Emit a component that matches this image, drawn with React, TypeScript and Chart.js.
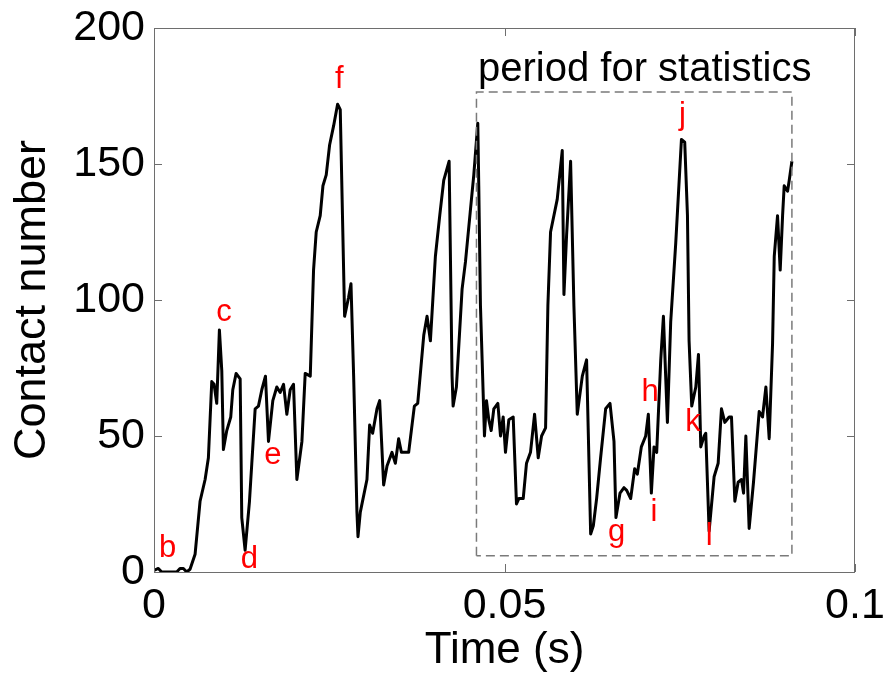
import React, { useEffect, useRef } from 'react';
import { Chart, registerables } from 'chart.js';
Chart.register(...registerables);

const timeMs = [
  0, 0.62, 1.1, 3.24, 3.71, 4.19, 4.67, 5.14, 5.86, 6.57, 7.29, 7.76, 8.24, 8.57, 8.95, 9.33, 9.67, 9.9,
  10.38, 10.95, 11.24, 11.71, 12.29, 12.52, 13.0, 13.62, 14.43, 14.9, 15.38, 15.9, 16.33, 16.95, 17.52,
  18.0, 18.48, 18.95, 19.43, 19.9, 20.38, 21.1, 21.57, 22.29, 22.76, 23.14, 23.71, 24.1, 24.57, 25.05,
  25.62, 26.19, 26.57, 27.05, 27.19, 27.76, 28.1, 28.48, 28.95, 29.1, 29.43, 30.38, 30.76, 31.19, 31.81,
  32.19, 32.76, 33.24, 33.95, 34.43, 34.9, 35.29, 35.86, 36.33, 37.14, 37.62, 38.48, 38.95, 39.43, 40.14,
  40.76, 41.33, 42.1, 42.52, 42.67, 43.14, 43.95, 44.43, 45.1, 45.62, 46.19,
  46.33, 46.57, 46.81, 47.14, 47.43, 47.76, 48.1, 48.48, 49.05, 49.43, 49.81, 50.14, 50.62, 51.24, 51.71,
  52.05, 52.67, 53.14, 53.71, 54.29, 54.81, 55.29, 55.86, 56.19, 56.57, 57.52, 58.24, 58.48, 58.86, 59.43,
  59.9, 60.38, 61.1, 61.71, 62.29, 62.67, 63.14, 63.71, 64.43, 65.05, 65.62, 65.9, 66.48, 67.05, 67.43,
  68.0, 68.57, 68.95, 69.52, 70.14, 70.52, 70.95, 71.33, 71.71, 72.29, 72.67, 73.24, 73.71, 74.43, 75.24,
  75.71, 76.1, 76.33, 76.71, 77.29, 77.67, 78.0, 78.48, 78.71, 79.19, 79.9, 80.48, 80.95, 81.43, 82.05,
  82.38, 82.86, 83.33, 83.81, 84.1, 84.43, 84.9, 85.52, 86.33, 86.81, 87.29, 87.76, 88.24, 88.48, 88.95,
  89.33, 89.67, 89.9, 90.38, 90.62, 91.0,
];

const contactNumber = [
  0.6, 1.3, 0, 0, 1.3, 1.3, 0, 1, 6.5, 26, 34, 42, 70, 69, 62, 89, 74, 45,
  52, 57, 67, 73, 71, 20, 8, 26, 60, 61, 67, 72, 48, 63, 68,
  66, 69, 58, 67, 69, 34, 48, 73, 72, 111, 125, 131, 142, 146, 157,
  164, 172, 170, 111, 94, 101, 106, 72, 22, 13, 22, 34, 54, 51, 60,
  63, 32, 39, 44, 40, 49, 44, 44, 44, 61, 62, 87, 94, 85, 116,
  131, 144, 151, 72, 61, 68, 104, 114, 132, 146, 165,
  142, 98, 78, 50, 63, 56, 52, 60, 62, 50, 57, 44, 56, 57, 25,
  27, 27, 40, 44, 58, 42, 50, 53, 98, 125, 137, 155, 102, 124, 151,
  98, 58, 72, 78, 14, 17, 27, 42, 60, 62, 48, 20, 29, 31, 30,
  27, 38, 36, 46, 50, 58, 29, 46, 44, 78, 94, 55, 92, 121, 159,
  158, 131, 85, 61, 68, 80, 46, 50, 51, 15, 35, 40, 60, 55, 57,
  57, 26, 33, 34, 29, 50, 16, 33, 59, 57, 68, 49, 84, 116, 131,
  111, 131, 142, 140, 144, 151,
];

const xTickValues = [0, 0.05, 0.1];
const xTickLabels = ['0', '0.05', '0.1'];
const yTickValues = [0, 50, 100, 150, 200];
const yTickLabels = ['0', '50', '100', '150', '200'];

const markLetters = ['b', 'c', 'd', 'e', 'f', 'g', 'h', 'i', 'j', 'k', 'l'];
const markTimesMs = [1.95, 10.0, 13.6, 16.95, 26.45, 66.0, 70.76, 71.33, 75.38, 76.9, 79.19];
const markValues = [8.5, 95.5, 4.5, 43, 181, 14.5, 66, 22, 168, 55, 13];

const boxTimesMs = [46.0, 91.0];
const boxValues = [6, 176.5];

const noteText = 'period for statistics';
const noteTimeMs = 70.0;
const noteValue = 180.5;

const FONT = '"Liberation Sans", Arial, Helvetica, sans-serif';

export default function App() {
  const ref = useRef<HTMLCanvasElement | null>(null);

  useEffect(() => {
    const canvas = ref.current;
    if (!canvas) return;

    const linePoints = timeMs.map((t, i) => ({ x: t / 1000, y: contactNumber[i] }));
    const boxPoints = [
      { x: boxTimesMs[0] / 1000, y: boxValues[0] },
      { x: boxTimesMs[0] / 1000, y: boxValues[1] },
      { x: boxTimesMs[1] / 1000, y: boxValues[1] },
      { x: boxTimesMs[1] / 1000, y: boxValues[0] },
      { x: boxTimesMs[0] / 1000, y: boxValues[0] },
    ];

    const framePlugin = {
      id: 'frame',
      afterDraw(chart: any) {
        const { ctx, chartArea: a, scales } = chart;
        ctx.save();
        ctx.strokeStyle = '#6e6e6e';
        ctx.lineWidth = 1;
        ctx.strokeRect(a.left + 0.5, a.top + 0.5, a.right - a.left - 1, a.bottom - a.top);
        const tl = 8;
        ctx.beginPath();
        xTickValues.forEach((v) => {
          const px = Math.round(scales.x.getPixelForValue(v)) + 0.5;
          ctx.moveTo(px, a.bottom);
          ctx.lineTo(px, a.bottom - tl);
          ctx.moveTo(px, a.top);
          ctx.lineTo(px, a.top + tl);
        });
        yTickValues.forEach((v) => {
          const py = Math.round(scales.y.getPixelForValue(v)) + 0.5;
          ctx.moveTo(a.left, py);
          ctx.lineTo(a.left + tl, py);
          ctx.moveTo(a.right, py);
          ctx.lineTo(a.right - tl, py);
        });
        ctx.stroke();

        ctx.fillStyle = '#ff0000';
        ctx.font = `31px ${FONT}`;
        ctx.textAlign = 'center';
        ctx.textBaseline = 'middle';
        markLetters.forEach((s, i) => {
          ctx.fillText(s, scales.x.getPixelForValue(markTimesMs[i] / 1000), scales.y.getPixelForValue(markValues[i]));
        });

        ctx.fillStyle = '#000000';
        ctx.font = `40px ${FONT}`;
        ctx.textBaseline = 'alphabetic';
        ctx.fillText(noteText, scales.x.getPixelForValue(noteTimeMs / 1000), scales.y.getPixelForValue(noteValue));
        ctx.restore();
      },
    };

    const chart = new Chart(canvas, {
      type: 'line',
      data: {
        datasets: [
          {
            data: boxPoints,
            borderColor: '#7a7a7a',
            borderWidth: 1.5,
            borderDash: [9, 5],
            pointRadius: 0,
            tension: 0,
            fill: false,
          },
          {
            data: linePoints,
            borderColor: '#000000',
            borderWidth: 3,
            pointRadius: 0,
            tension: 0,
            fill: false,
            borderJoinStyle: 'round',
          },
        ],
      },
      options: {
        animation: false,
        responsive: false,
        parsing: false,
        layout: { padding: { top: 28, right: 29, left: 0, bottom: 0 } },
        plugins: { legend: { display: false }, tooltip: { enabled: false } },
        scales: {
          x: {
            type: 'linear',
            min: 0,
            max: 0.1,
            afterBuildTicks: (s: any) => {
              s.ticks = xTickValues.map((v) => ({ value: v }));
            },
            afterFit: (s: any) => {
              s.height = 105;
              s.paddingLeft = 0;
              s.paddingRight = 0;
            },
            border: { display: false },
            grid: { display: false, drawTicks: false },
            ticks: {
              color: '#000',
              font: { family: FONT, size: 43 },
              padding: 8,
              maxRotation: 0,
              autoSkip: false,
              callback: (v: any) => {
                const i = xTickValues.findIndex((t) => Math.abs(t - Number(v)) < 1e-9);
                return i >= 0 ? xTickLabels[i] : '';
              },
            },
            title: {
              display: true,
              text: 'Time (s)',
              color: '#000',
              font: { family: FONT, size: 44 },
              padding: { top: 0, bottom: 0 },
            },
          },
          y: {
            type: 'linear',
            min: 0,
            max: 200,
            afterBuildTicks: (s: any) => {
              s.ticks = yTickValues.map((v) => ({ value: v }));
            },
            afterFit: (s: any) => {
              s.width = 154;
              s.paddingTop = 0;
              s.paddingBottom = 0;
            },
            border: { display: false },
            grid: { display: false, drawTicks: false },
            ticks: {
              color: '#000',
              font: { family: FONT, size: 43 },
              padding: 9,
              autoSkip: false,
              callback: (v: any) => {
                const i = yTickValues.indexOf(Number(v));
                return i >= 0 ? yTickLabels[i] : '';
              },
            },
            title: {
              display: true,
              text: 'Contact number',
              color: '#000',
              font: { family: FONT, size: 45 },
              padding: { top: 6, bottom: 0 },
            },
          },
        },
      },
      plugins: [framePlugin],
    });

    return () => chart.destroy();
  }, []);

  return (
    <div style={{ position: 'fixed', left: 0, top: 0, width: 884, height: 677, background: '#fff' }}>
      <canvas ref={ref} width={884} height={677} style={{ display: 'block' }} />
    </div>
  );
}
